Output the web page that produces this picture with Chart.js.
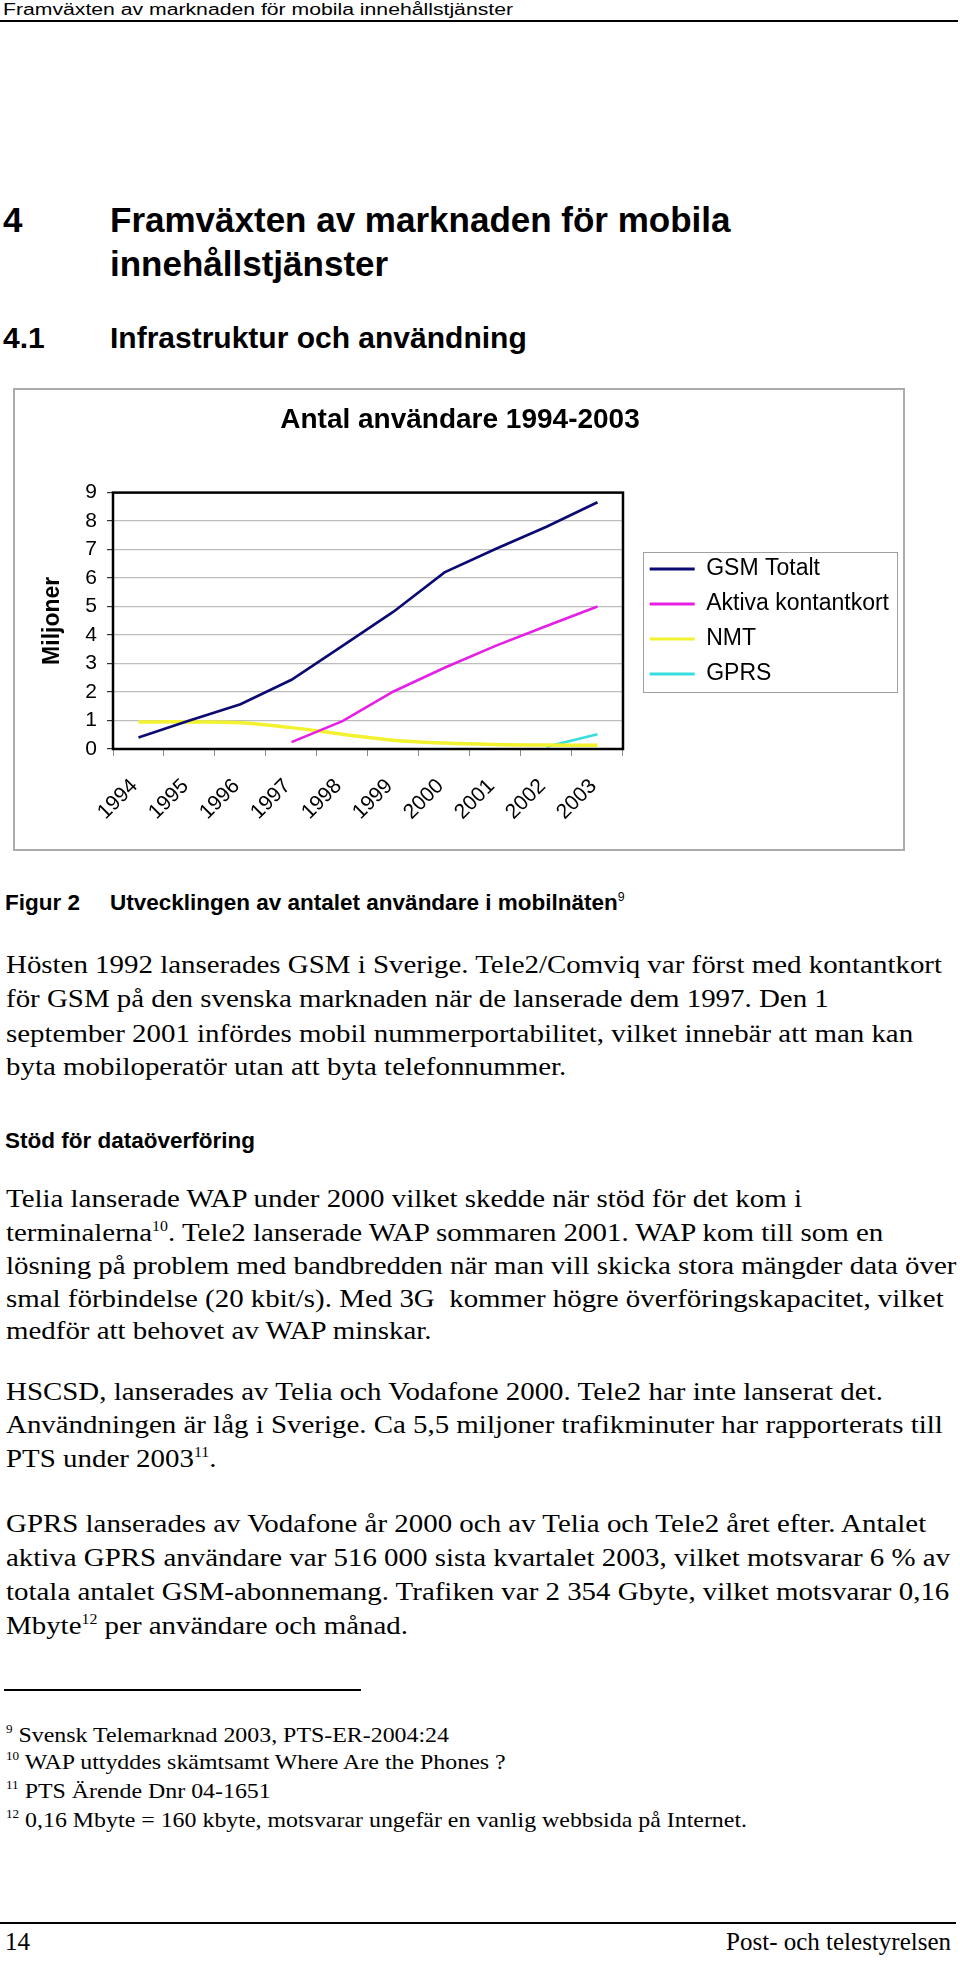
<!DOCTYPE html>
<html lang="sv">
<head>
<meta charset="utf-8">
<title>Framväxten av marknaden för mobila innehållstjänster</title>
<script src="https://cdn.jsdelivr.net/npm/chart.js@4.4.1/dist/chart.umd.min.js"></script>
<style>
    html, body { margin: 0; padding: 0; background: #fff; }
    body { width: 960px; height: 1963px; position: relative; overflow: hidden; color: #000; }
    .abs { position: absolute; white-space: pre; }
    .sans { font-family: "Liberation Sans", Arial, sans-serif; }
    .serif { font-family: "Liberation Serif", "Times New Roman", serif; }
    .rule { position: absolute; background: #000; }
    .runhead { left: 3px; top: 0; font-size: 16px; line-height: 20px; transform-origin: 0 50%; }
    .h1 { font-weight: bold; font-size: 35px; line-height: 40px; }
    .h2 { font-weight: bold; font-size: 30px; line-height: 34px; }
    .cap { font-weight: bold; font-size: 22.5px; line-height: 26px; }
    .txt { left: 6px; font-size: 25px; line-height: 34px; transform-origin: 0 50%; }
    .fn { left: 6px; font-size: 22px; line-height: 28px; transform-origin: 0 50%; }
    .foot { font-size: 25px; line-height: 34px; }
    .sup { font-size: 0.55em; position: relative; top: -0.75em; }
    #chartBox { position: absolute; left: 13px; top: 388px; width: 892px; height: 463px; border: 2px solid #ababab; box-sizing: border-box; }
    #chartWrap { position: absolute; left: 13px; top: 388px; width: 886px; height: 467px; }
</style>
</head>
<body>

<div class="abs sans runhead" id="runhead">Framväxten av marknaden för mobila innehållstjänster</div>
<div class="rule" style="left:0; top:20px; width:958px; height:2px;"></div>

<div class="abs sans h1" style="left:3px; top:200px;">4</div>
<div class="abs sans h1" style="left:110px; top:200px;">Framväxten av marknaden för mobila</div>
<div class="abs sans h1" style="left:110px; top:244px;">innehållstjänster</div>

<div class="abs sans h2" style="left:3px; top:321px;">4.1</div>
<div class="abs sans h2" style="left:110px; top:321px;">Infrastruktur och användning</div>

<div id="chartBox"></div>
<div id="chartWrap"><canvas id="economyChart" width="886" height="467"></canvas></div>

<div class="abs sans cap" style="left:5px; top:890px;">Figur 2</div>
<div class="abs sans cap" style="left:110px; top:890px;">Utvecklingen av antalet användare i mobilnäten<span class="sup" style="font-weight:normal">9</span></div>

<div class="abs serif txt" id="refLine" style="top:948px;">Hösten 1992 lanserades GSM i Sverige. Tele2/Comviq var först med kontantkort</div>
<div class="abs serif txt" style="top:982px;">för GSM på den svenska marknaden när de lanserade dem 1997. Den 1</div>
<div class="abs serif txt" style="top:1017px;">september 2001 infördes mobil nummerportabilitet, vilket innebär att man kan</div>
<div class="abs serif txt" style="top:1050px;">byta mobiloperatör utan att byta telefonnummer.</div>

<div class="abs sans cap" style="left:5px; top:1128px;">Stöd för dataöverföring</div>

<div class="abs serif txt" style="top:1182px;">Telia lanserade WAP under 2000 vilket skedde när stöd för det kom i</div>
<div class="abs serif txt" style="top:1216px;">terminalerna<span class="sup">10</span>. Tele2 lanserade WAP sommaren 2001. WAP kom till som en</div>
<div class="abs serif txt" style="top:1249px;">lösning på problem med bandbredden när man vill skicka stora mängder data över</div>
<div class="abs serif txt" style="top:1282px;">smal förbindelse (20 kbit/s). Med 3G  kommer högre överföringskapacitet, vilket</div>
<div class="abs serif txt" style="top:1314px;">medför att behovet av WAP minskar.</div>

<div class="abs serif txt" style="top:1375px;">HSCSD, lanserades av Telia och Vodafone 2000. Tele2 har inte lanserat det.</div>
<div class="abs serif txt" style="top:1408px;">Användningen är låg i Sverige. Ca 5,5 miljoner trafikminuter har rapporterats till</div>
<div class="abs serif txt" style="top:1442px;">PTS under 2003<span class="sup">11</span>.</div>

<div class="abs serif txt" style="top:1507px;">GPRS lanserades av Vodafone år 2000 och av Telia och Tele2 året efter. Antalet</div>
<div class="abs serif txt" style="top:1541px;">aktiva GPRS användare var 516 000 sista kvartalet 2003, vilket motsvarar 6 % av</div>
<div class="abs serif txt" style="top:1575px;">totala antalet GSM-abonnemang. Trafiken var 2 354 Gbyte, vilket motsvarar 0,16</div>
<div class="abs serif txt" style="top:1609px;">Mbyte<span class="sup">12</span> per användare och månad.</div>

<div class="rule" style="left:4px; top:1689px; width:357px; height:2px;"></div>

<div class="abs serif fn" style="top:1721px;"><span class="sup">9</span> Svensk Telemarknad 2003, PTS-ER-2004:24</div>
<div class="abs serif fn" style="top:1748px;"><span class="sup">10</span> WAP uttyddes skämtsamt Where Are the Phones ?</div>
<div class="abs serif fn" style="top:1777px;"><span class="sup">11</span> PTS Ärende Dnr 04-1651</div>
<div class="abs serif fn" id="refNote" style="top:1806px;"><span class="sup">12</span> 0,16 Mbyte = 160 kbyte, motsvarar ungefär en vanlig webbsida på Internet.</div>

<div class="rule" style="left:0; top:1922px; width:956px; height:2px;"></div>
<div class="abs serif foot" style="left:5px; top:1925px;">14</div>
<div class="abs serif foot" style="right:9px; top:1925px;">Post- och telestyrelsen</div>

<script>
    // Chart data (millions of users)
    const years = ['1994', '1995', '1996', '1997', '1998', '1999', '2000', '2001', '2002', '2003'];
    const gsmTotalt = [0.40, 1.00, 1.57, 2.43, 3.62, 4.82, 6.20, 7.02, 7.80, 8.66];
    const aktivaKontantkort = [null, null, null, 0.24, 0.98, 2.02, 2.85, 3.62, 4.32, 5.00];
    const nmt = [0.95, 0.95, 0.92, 0.75, 0.52, 0.31, 0.21, 0.16, 0.14, 0.13];
    const gprs = [null, null, null, null, null, null, null, null, 0.08, 0.52];
    const seriesNames = ['GSM Totalt', 'Aktiva kontantkort', 'NMT', 'GPRS'];
    const yMin = 0;
    const yMax = 9;
    const yStep = 1;

    // Stretch the text lines so they run as wide as in the scanned page
    function fitLines(refEl, target, selector) {
        const width = refEl.getBoundingClientRect().width;
        const k = target / width;
        document.querySelectorAll(selector).forEach(function (el) {
            el.style.transform = 'scaleX(' + k + ')';
        });
    }
    fitLines(document.getElementById('refLine'), 936, '.txt');
    fitLines(document.getElementById('refNote'), 741, '.fn');
    fitLines(document.getElementById('runhead'), 510, '.runhead');

    Chart.defaults.font.family = '"Liberation Sans", Arial, sans-serif';
    Chart.defaults.color = '#000';

    // Black frame round the plot area
    const plotFrame = {
        id: 'plotFrame',
        afterDatasetsDraw(chart) {
            const { ctx, chartArea } = chart;
            ctx.save();
            ctx.strokeStyle = '#000';
            ctx.lineWidth = 2.5;
            ctx.strokeRect(chartArea.left, chartArea.top, chartArea.right - chartArea.left, chartArea.bottom - chartArea.top);
            ctx.restore();
        }
    };

    // Thin grey frame round the legend
    const legendFrame = {
        id: 'legendFrame',
        afterDraw(chart) {
            const boxes = chart.legend && chart.legend.legendHitBoxes;
            if (!boxes || !boxes.length) return;
            const first = boxes[0];
            const last = boxes[boxes.length - 1];
            const x = Math.round(first.left - 7) + 0.5;
            const y = Math.round(first.top - 6) + 0.5;
            const h = Math.round(last.top + last.height + 6) - Math.round(first.top - 6);
            const ctx = chart.ctx;
            ctx.save();
            ctx.strokeStyle = '#a0a0a0';
            ctx.lineWidth = 1;
            ctx.strokeRect(x, y, 254, h);
            ctx.restore();
        }
    };

    const colors = ['#0a0a72', '#e61fe6', '#f2f22e', '#38dede'];
    const values = [gsmTotalt, aktivaKontantkort, nmt, gprs];

    const datasets = seriesNames.map(function (name, i) {
        return {
            label: name,
            data: values[i],
            borderColor: colors[i],
            backgroundColor: colors[i],
            borderWidth: i === 2 ? 3.5 : 2.6,
            pointRadius: 0,
            tension: i === 2 ? 0.4 : 0,
            fill: false
        };
    });

    new Chart(document.getElementById('economyChart').getContext('2d'), {
        type: 'line',
        data: { labels: years, datasets: datasets },
        options: {
            responsive: false,
            animation: false,
            layout: { padding: { left: 8, right: 0, top: 0, bottom: 0 } },
            plugins: {
                title: {
                    display: true,
                    text: 'Antal användare 1994-2003',
                    font: { size: 28, weight: 'bold' },
                    color: '#000',
                    padding: { top: 15, bottom: 56 }
                },
                legend: {
                    position: 'right',
                    align: 'center',
                    maxWidth: 320,
                    labels: {
                        boxWidth: 45,
                        boxHeight: 3,
                        padding: 12,
                        color: '#000',
                        font: { size: 23 },
                        generateLabels(chart) {
                            return Chart.defaults.plugins.legend.labels.generateLabels(chart).map(function (item) {
                                item.fillStyle = item.strokeStyle;
                                item.lineWidth = 0;
                                return item;
                            });
                        }
                    }
                },
                tooltip: { enabled: false }
            },
            scales: {
                x: {
                    offset: true,
                    grid: { offset: true, drawOnChartArea: false, drawTicks: true, tickLength: 7, tickColor: '#8a8a8a' },
                    border: { display: false },
                    ticks: { minRotation: 45, maxRotation: 45, autoSkip: false, font: { size: 21 }, color: '#000', padding: 18, labelOffset: -4 },
                    afterFit(scale) { scale.height = 106; }
                },
                y: {
                    min: yMin,
                    max: yMax,
                    ticks: { stepSize: yStep, font: { size: 21 }, color: '#000', padding: 10 },
                    grid: { color: '#bdbdbd', lineWidth: 1.2, tickLength: 6, tickColor: '#333' },
                    border: { display: false },
                    title: {
                        display: true,
                        text: 'Miljoner',
                        font: { size: 23, weight: 'bold' },
                        color: '#000',
                        padding: { top: 18, bottom: 0 }
                    },
                    afterFit(scale) { scale.width = 92; }
                },
                spacer: {
                    type: 'linear',
                    position: 'right',
                    display: true,
                    grid: { display: false },
                    border: { display: false },
                    ticks: { display: false },
                    afterFit(scale) { scale.width = 14.7; }
                }
            }
        },
        plugins: [plotFrame, legendFrame]
    });
</script>
</body>
</html>
